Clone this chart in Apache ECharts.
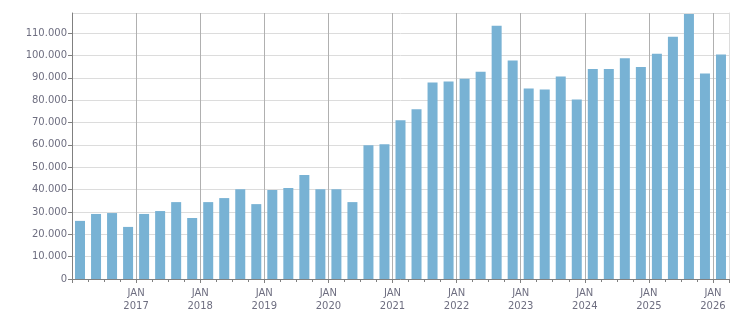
<!DOCTYPE html>
<html>
<head>
<meta charset="utf-8">
<script src="https://cdn.jsdelivr.net/npm/echarts@6/dist/echarts.min.js"></script>
<style>
  html, body { margin: 0; padding: 0; background: #fff; }
  #chart { width: 751px; height: 313px; }
</style>
</head>
<body>
<div id="chart"></div>
<script>
// quarterly values, Q1 2016 .. Q1 2026
var firstYear = 2016;
var values = [
  26000, 29100, 29500, 23300,
  29100, 30400, 34400, 27300,
  34400, 36200, 40200, 33500,
  39800, 40700, 46500, 40200,
  40200, 34400, 59800, 60300,
  71000, 75900, 87900, 88300,
  89600, 92700, 113300, 97700,
  85200, 84800, 90600, 80300,
  93900, 93900, 98800, 94800,
  100800, 108400, 118600, 91900,
  100400
];
var yMax = 119000;
var yStep = 10000;

var textColor = '#6e6e80';
var font = 'DejaVu Sans';

// bars sit in the middle of their quarter slot
var barData = values.map(function (v, i) { return [i + 0.5, v]; });

var chart = echarts.init(document.getElementById('chart'));
var option = {
  animation: false,
  grid: { left: 72, right: 22, top: 13, bottom: 32, containLabel: false },
  xAxis: {
    type: 'value',
    min: 0,
    max: values.length,
    interval: 4,
    axisLine: { show: true, lineStyle: { color: '#808080', width: 1 } },
    axisTick: { show: true, length: 4, lineStyle: { color: '#808080' } },
    minorTick: { show: true, splitNumber: 4, length: 3, lineStyle: { color: '#808080' } },
    splitLine: { show: true, lineStyle: { color: '#b0b0b0', width: 1 } },
    axisLabel: {
      showMaxLabel: false,
      color: textColor,
      fontFamily: font,
      fontSize: 10,
      lineHeight: 13,
      margin: 8,
      formatter: function (v) {
        if (v <= 0 || v >= values.length) return '';
        return 'JAN\n' + (firstYear + v / 4);
      }
    }
  },
  yAxis: [{
    type: 'value',
    min: 0,
    max: yMax,
    interval: yStep,
    axisLine: { show: true, lineStyle: { color: '#808080', width: 1 } },
    axisTick: { show: true, length: 4, lineStyle: { color: '#808080' } },
    splitLine: { show: true, lineStyle: { color: '#dcdcdc', width: 1 } },
    axisLabel: {
      showMaxLabel: false,
      color: textColor,
      fontFamily: font,
      fontSize: 10,
      margin: 5,
      formatter: function (v) {
        return v === 0 ? '0' : (v / 1000).toFixed(0) + '.000';
      }
    }
  }, {
    type: 'value',
    position: 'right',
    min: 0,
    max: yMax,
    axisLine: { show: true, lineStyle: { color: '#dcdcdc', width: 1 } },
    axisTick: { show: false },
    axisLabel: { show: false },
    splitLine: { show: false }
  }],
  series: [{
    type: 'bar',
    data: barData,
    barWidth: 10,
    itemStyle: { color: '#78b2d4' }
  }]
};
chart.setOption(option);
</script>
</body>
</html>
